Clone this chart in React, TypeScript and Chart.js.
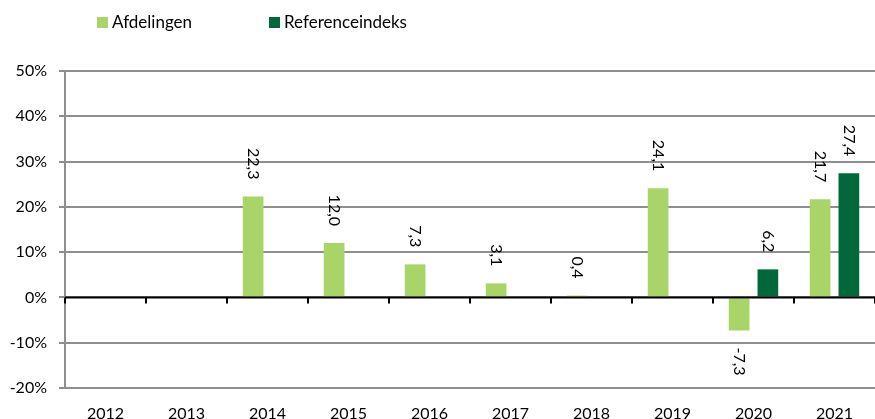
import React, { useEffect, useRef } from "react";
import { Chart, registerables } from "chart.js";

Chart.register(...registerables);

const categories = ["2012", "2013", "2014", "2015", "2016", "2017", "2018", "2019", "2020", "2021"];
const afdelingen: (number | null)[] = [null, null, 22.3, 12.0, 7.3, 3.1, 0.4, 24.1, -7.3, 21.7];
const referenceindeks: (number | null)[] = [null, null, null, null, null, null, null, null, 6.2, 27.4];
const seriesNames = ["Afdelingen", "Referenceindeks"];
const seriesColors = ["#A8D468", "#00683A"];
const yMin = -20;
const yMax = 50;
const yStep = 10;

const FONT = "Lato, 'Open Sans', sans-serif";
const FS = 16;
const LEGEND_FS = 17;
const GRID = "#8E8E8E";

const fmt = (v: number) => v.toFixed(1).replace(".", ",");

const overlayPlugin = {
  id: "overlay",
  afterDatasetsDraw(chart: any) {
    const ctx = chart.ctx;
    const area = chart.chartArea;
    const y = chart.scales.y;
    const y0 = y.getPixelForValue(0);
    ctx.save();
    // zero line
    ctx.strokeStyle = "#000";
    ctx.lineWidth = 2;
    ctx.beginPath();
    ctx.moveTo(area.left, y0);
    ctx.lineTo(area.right, y0);
    ctx.stroke();
    // category boundary ticks
    const n = categories.length;
    const cw = (area.right - area.left) / n;
    for (let i = 0; i <= n; i++) {
      const px = Math.round(area.left + i * cw);
      ctx.beginPath();
      ctx.moveTo(px, y0);
      ctx.lineTo(px, y0 + 6);
      ctx.stroke();
    }
    // data labels
    ctx.fillStyle = "#000";
    ctx.font = `${FS}px ${FONT}`;
    ctx.textBaseline = "middle";
    chart.data.datasets.forEach((ds: any, di: number) => {
      const meta = chart.getDatasetMeta(di);
      meta.data.forEach((bar: any, i: number) => {
        const v = ds.data[i];
        if (v === null || v === undefined) return;
        const label = fmt(v);
        const w = ctx.measureText(label).width;
        const gap = 17;
        ctx.save();
        if (v >= 0) {
          ctx.translate(bar.x, bar.y - gap - w / 2);
        } else {
          ctx.translate(bar.x, bar.y + gap + w / 2);
        }
        ctx.rotate(Math.PI / 2);
        ctx.textAlign = "center";
        ctx.fillText(label, 0, 0);
        ctx.restore();
      });
    });
    ctx.restore();
  },
  afterDraw(chart: any) {
    const ctx = chart.ctx;
    ctx.save();
    const xs = [97, 269];
    ctx.font = `${LEGEND_FS}px ${FONT}`;
    ctx.textBaseline = "middle";
    ctx.textAlign = "left";
    seriesNames.forEach((name, i) => {
      ctx.fillStyle = seriesColors[i];
      ctx.fillRect(xs[i], 17, 11, 11);
      ctx.fillStyle = "#000";
      ctx.fillText(name, xs[i] + 15, 23);
    });
    ctx.restore();
  },
};

export default function App() {
  const ref = useRef<HTMLCanvasElement | null>(null);
  useEffect(() => {
    if (!ref.current) return;
    const chart = new Chart(ref.current, {
      type: "bar",
      data: {
        labels: categories,
        datasets: [
          {
            label: seriesNames[0],
            data: afdelingen,
            backgroundColor: seriesColors[0],
            categoryPercentage: 0.71,
            barPercentage: 0.72,
          },
          {
            label: seriesNames[1],
            data: referenceindeks,
            backgroundColor: seriesColors[1],
            categoryPercentage: 0.71,
            barPercentage: 0.72,
          },
        ],
      },
      options: {
        animation: false,
        responsive: false,
        maintainAspectRatio: false,
        layout: { padding: { top: 71, left: 0, right: 0, bottom: 0 } },
        plugins: {
          legend: { display: false },
          tooltip: { enabled: false },
        },
        scales: {
          x: {
            grid: { display: false },
            border: { display: false },
            ticks: {
              color: "#000",
              font: { family: FONT, size: FS },
              padding: 8,
              maxRotation: 0,
            },
            afterFit(scale: any) {
              scale.height = 31;
            },
          },
          y: {
            min: yMin,
            max: yMax,
            ticks: {
              stepSize: yStep,
              color: "#000",
              font: { family: FONT, size: FS },
              padding: 12,
              callback: (v: any) => `${v}%`,
            },
            grid: { color: GRID, lineWidth: 2, tickLength: 6 },
            border: { display: true, color: GRID, width: 2 },
            afterFit(scale: any) {
              scale.width = 65;
            },
          },
        },
      },
      plugins: [overlayPlugin],
    });
    return () => chart.destroy();
  }, []);
  return (
    <div style={{ position: "fixed", left: 0, top: 0, width: 875, height: 419, background: "#fff" }}>
      <canvas ref={ref} width={875} height={419} style={{ width: 875, height: 419, display: "block" }} />
    </div>
  );
}
